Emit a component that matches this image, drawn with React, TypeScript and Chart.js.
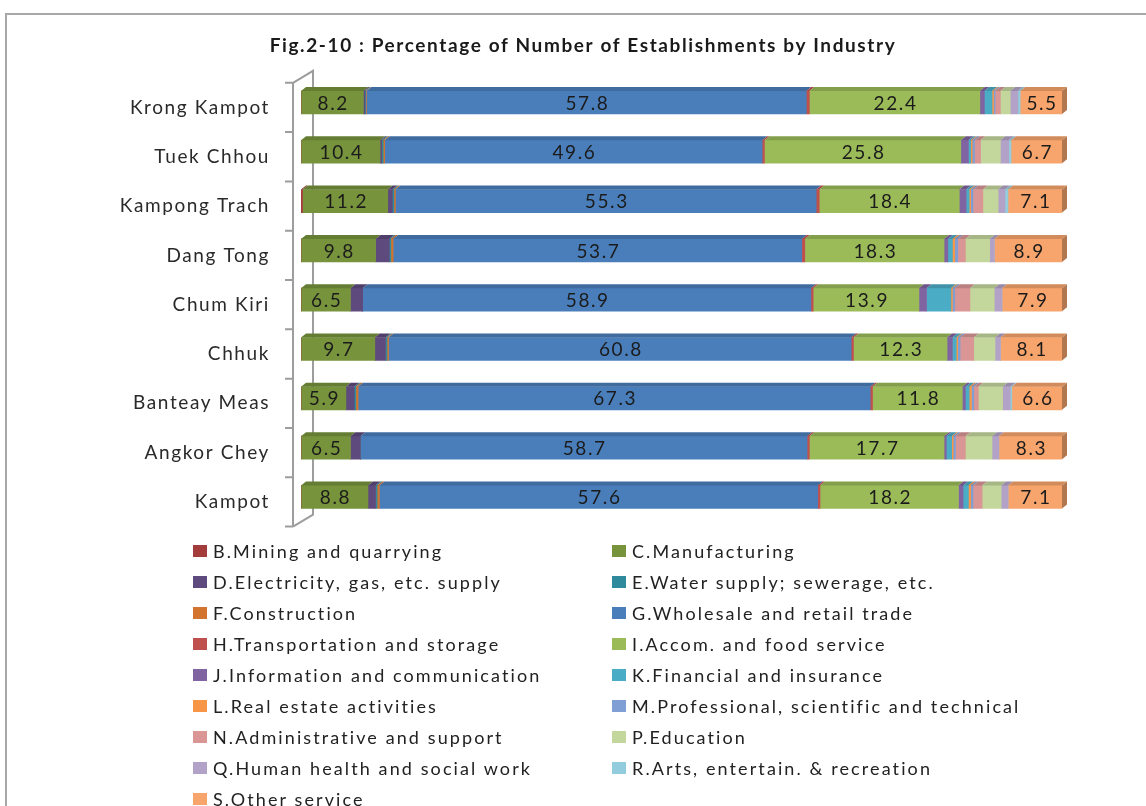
import React, { useEffect, useRef } from "react";
import { Chart, registerables } from "chart.js";

Chart.register(...registerables);

const titleText = "Fig.2-10 : Percentage of Number of Establishments by Industry";

const categories = [
  "Krong Kampot",
  "Tuek Chhou",
  "Kampong Trach",
  "Dang Tong",
  "Chum Kiri",
  "Chhuk",
  "Banteay Meas",
  "Angkor Chey",
  "Kampot",
];

const seriesNames = [
  "B.Mining and quarrying",
  "C.Manufacturing",
  "D.Electricity, gas, etc. supply",
  "E.Water supply; sewerage, etc.",
  "F.Construction",
  "G.Wholesale and retail trade",
  "H.Transportation and storage",
  "I.Accom. and food service",
  "J.Information and communication",
  "K.Financial and insurance",
  "L.Real estate activities",
  "M.Professional, scientific and technical",
  "N.Administrative and support",
  "P.Education",
  "Q.Human health and social work",
  "R.Arts, entertain. & recreation",
  "S.Other service",
];

const seriesColors = [
  "#A33C3A",
  "#77933C",
  "#5F4A7E",
  "#2F8A9C",
  "#D2742E",
  "#4A7EBB",
  "#C0504D",
  "#9BBB59",
  "#8064A2",
  "#4BACC6",
  "#F79646",
  "#7F9FD5",
  "#D99694",
  "#C3D69B",
  "#B3A2C7",
  "#93CDDD",
  "#F7A56C",
];

const mining = [0, 0, 0.2, 0, 0, 0, 0, 0, 0];
const manufacturing = [8.2, 10.4, 11.2, 9.8, 6.5, 9.7, 5.9, 6.5, 8.8];
const electricity = [0.2, 0.2, 0.6, 1.8, 1.6, 1.4, 1.1, 1.3, 1.0];
const water = [0.1, 0.2, 0.2, 0.2, 0, 0.2, 0.2, 0, 0.2];
const construction = [0.1, 0.2, 0.2, 0.3, 0, 0.2, 0.3, 0, 0.3];
const wholesale = [57.8, 49.6, 55.3, 53.7, 58.9, 60.8, 67.3, 58.7, 57.6];
const transport = [0.4, 0.3, 0.4, 0.4, 0.3, 0.3, 0.3, 0.3, 0.3];
const accommodation = [22.4, 25.8, 18.4, 18.3, 13.9, 12.3, 11.8, 17.7, 18.2];
const information = [0.6, 1.0, 0.9, 0.5, 1.0, 0.7, 0.4, 0.3, 0.6];
const financial = [1.0, 0.3, 0.4, 0.6, 3.2, 0.5, 0.5, 0.7, 0.7];
const realEstate = [0.2, 0.2, 0.2, 0.3, 0.2, 0.2, 0.3, 0.2, 0.3];
const professional = [0.2, 0.3, 0.3, 0.4, 0.3, 0.3, 0.3, 0.3, 0.3];
const administrative = [0.7, 0.8, 1.3, 1.0, 2.0, 1.8, 0.6, 1.3, 1.2];
const education = [1.3, 2.6, 2.0, 3.2, 3.2, 2.8, 3.2, 3.5, 2.5];
const health = [1.0, 1.1, 0.9, 0.6, 1.0, 0.7, 1.0, 0.9, 0.9];
const arts = [0.3, 0.3, 0.4, 0, 0, 0, 0.2, 0, 0];
const otherService = [5.5, 6.7, 7.1, 8.9, 7.9, 8.1, 6.6, 8.3, 7.1];

const seriesValues = [
  mining,
  manufacturing,
  electricity,
  water,
  construction,
  wholesale,
  transport,
  accommodation,
  information,
  financial,
  realEstate,
  professional,
  administrative,
  education,
  health,
  arts,
  otherService,
];

// datasets whose segments carry a value label
const labelledSeries = [1, 5, 7, 16];

function darken(hex: string, f: number): string {
  const n = parseInt(hex.slice(1), 16);
  const r = Math.round(((n >> 16) & 255) * f);
  const g = Math.round(((n >> 8) & 255) * f);
  const b = Math.round((n & 255) * f);
  return `rgb(${r},${g},${b})`;
}

const DX = 5;
const DY = 4;
const SHIFT = 5;

const threeDPlugin = {
  id: "threeD",
  beforeDraw(chart: any) {
    chart.ctx.letterSpacing = "1.6px";
  },
  beforeDatasetsDraw(chart: any) {
    const { ctx, chartArea: a } = chart;
    const n = categories.length;
    const fx = a.left - 8;
    const bx = a.left + 12;
    ctx.save();
    ctx.strokeStyle = "#9d9d9d";
    ctx.lineWidth = 2;
    ctx.beginPath();
    ctx.moveTo(fx, a.top);
    ctx.lineTo(fx, a.bottom);
    for (let i = 0; i <= n; i++) {
      const y = a.top + (i * (a.bottom - a.top)) / n;
      ctx.moveTo(fx - 8, y);
      ctx.lineTo(fx, y);
    }
    ctx.moveTo(fx, a.top);
    ctx.lineTo(bx, a.top - 12);
    ctx.lineTo(bx, a.bottom - 12);
    ctx.lineTo(fx, a.bottom);
    ctx.stroke();
    ctx.restore();
    ctx.save();
    ctx.translate(0, -SHIFT);
  },
  afterDatasetsDraw(chart: any) {
    const { ctx } = chart;
    const metas = chart.data.datasets.map((_: any, i: number) => chart.getDatasetMeta(i));
    metas.forEach((meta: any, di: number) => {
      const color = seriesColors[di];
      meta.data.forEach((bar: any) => {
        const { x, base, y, height } = bar.getProps(["x", "base", "y", "height"], true);
        const left = Math.min(x, base);
        const right = Math.max(x, base);
        if (right - left < 0.3) return;
        const top = y - height / 2;
        const bottom = y + height / 2;
        ctx.fillStyle = darken(color, 0.85);
        ctx.beginPath();
        ctx.moveTo(left, top);
        ctx.lineTo(left + DX, top - DY);
        ctx.lineTo(right + DX, top - DY);
        ctx.lineTo(right, top);
        ctx.closePath();
        ctx.fill();
        if (di === metas.length - 1) {
          ctx.fillStyle = darken(color, 0.72);
          ctx.beginPath();
          ctx.moveTo(right, top);
          ctx.lineTo(right + DX, top - DY);
          ctx.lineTo(right + DX, bottom - DY);
          ctx.lineTo(right, bottom);
          ctx.closePath();
          ctx.fill();
        }
      });
    });
    ctx.font = "19px Lato";
    ctx.fillStyle = "#1b1b1b";
    ctx.textAlign = "center";
    ctx.textBaseline = "middle";
    labelledSeries.forEach((di) => {
      const meta = metas[di];
      meta.data.forEach((bar: any, i: number) => {
        const { x, base, y } = bar.getProps(["x", "base", "y"], true);
        const v = seriesValues[di][i];
        ctx.fillText(v.toFixed(1), (x + base) / 2 + 1, y + 1);
      });
    });
    ctx.restore();
  },
};

function ChartCanvas() {
  const ref = useRef<HTMLCanvasElement | null>(null);
  useEffect(() => {
    if (!ref.current) return;
    const chart = new Chart(ref.current, {
      type: "bar",
      data: {
        labels: categories,
        datasets: seriesNames.map((name, i) => ({
          label: name,
          data: seriesValues[i],
          backgroundColor: seriesColors[i],
          borderWidth: 0,
          barThickness: 23,
        })),
      },
      options: {
        indexAxis: "y",
        animation: false,
        responsive: false,
        maintainAspectRatio: false,
        layout: { padding: { top: 34, right: 84, bottom: 6, left: 104 } },
        plugins: {
          legend: { display: false },
          tooltip: { enabled: false },
          title: {
            display: true,
            text: titleText,
            color: "#1a1a1a",
            font: { family: "Lato", size: 19, weight: "bold" },
            padding: { top: 0, bottom: 26 },
          },
        },
        scales: {
          x: { stacked: true, min: 0, max: 100, display: false },
          y: {
            stacked: true,
            grid: { display: false, drawTicks: false },
            border: { display: false },
            ticks: {
              color: "#2a2a2a",
              font: { family: "Lato", size: 19 },
              padding: 31,
            },
            afterFit(scale: any) {
              scale.width = 197;
            },
          },
        },
      } as any,
      plugins: [threeDPlugin],
    });
    return () => chart.destroy();
  }, []);
  return (
    <canvas
      ref={ref}
      width={1146}
      height={569}
      style={{ position: "fixed", left: 0, top: 0, width: 1146, height: 569 }}
    />
  );
}

export default function App() {
  return (
    <div>
      <div
        style={{
          position: "fixed",
          left: 5,
          top: 13,
          width: 2000,
          height: 2000,
          borderTop: "2px solid #a8a8a8",
          borderLeft: "2px solid #a8a8a8",
        }}
      />
      <ChartCanvas />
      <div
        style={{
          position: "fixed",
          left: 193,
          top: 535,
          display: "grid",
          gridTemplateColumns: "419px 520px",
          gridAutoRows: "31px",
          fontFamily: "Lato",
          fontSize: 18,
          letterSpacing: "2.1px",
          color: "#222",
        }}
      >
        {seriesNames.map((name, i) => (
          <div key={name} style={{ display: "flex", alignItems: "center", whiteSpace: "nowrap" }}>
            <span
              style={{
                display: "inline-block",
                width: 14,
                height: 12,
                background: seriesColors[i],
                marginRight: 6,
              }}
            />
            <span>{name}</span>
          </div>
        ))}
      </div>
    </div>
  );
}
